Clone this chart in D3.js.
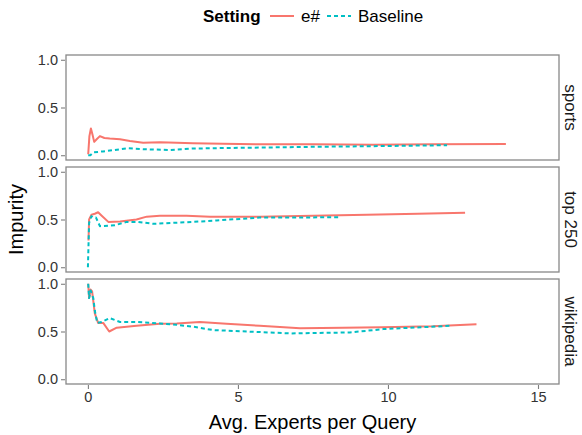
<!DOCTYPE html>
<html>
<head>
<meta charset="utf-8">
<script src="https://cdn.jsdelivr.net/npm/d3@7"></script>
<style>
	body { margin: 0; background: #fff; }
	text { font-family: "Liberation Sans", Arial, sans-serif; }
	.axis path { display: none; }
	.axis line { stroke: #7f7f7f; stroke-width: 1.1; }
	.axis text { fill: #333; font-size: 14.5px; }
</style>
</head>
<body>
<div id="chart"></div>
<script>
var panels = ["sports", "top 250", "wikipedia"];
var settings = ["e#", "Baseline"];
var xTicks = [0, 5, 10, 15];
var yTicks = [0, 0.5, 1];

// [avg experts per query, impurity]
var sportsE = [[0.01, 0.01], [0.05, 0.2], [0.1, 0.28], [0.15, 0.22], [0.21, 0.14], [0.3, 0.17], [0.4, 0.2], [0.55, 0.18], [0.73, 0.175], [1.07, 0.168], [1.4, 0.15], [1.84, 0.13], [2.4, 0.135], [2.96, 0.13], [3.5, 0.125], [4.5, 0.12], [5.7, 0.115], [7.5, 0.115], [9.5, 0.11], [11.5, 0.115], [13.93, 0.118]];
var sportsB = [[0.01, 0.0], [0.08, 0.0], [0.18, 0.03], [0.5, 0.04], [0.9, 0.055], [1.33, 0.073], [1.85, 0.063], [2.73, 0.055], [3.5, 0.07], [4.5, 0.075], [5.7, 0.08], [7.5, 0.088], [9.5, 0.095], [11.97, 0.105]];

var top250E = [[0.02, 0.28], [0.04, 0.5], [0.12, 0.55], [0.23, 0.56], [0.34, 0.576], [0.46, 0.54], [0.68, 0.475], [1.07, 0.48], [1.62, 0.5], [1.96, 0.53], [2.4, 0.54], [3.29, 0.54], [4.07, 0.53], [5.73, 0.53], [7.5, 0.54], [9.3, 0.55], [11, 0.56], [12.57, 0.57]];
var top250B = [[0.0, 0.0], [0.04, 0.465], [0.12, 0.535], [0.18, 0.52], [0.27, 0.52], [0.4, 0.43], [0.9, 0.44], [1.29, 0.475], [1.68, 0.475], [2.18, 0.455], [3.51, 0.475], [4.29, 0.49], [5.73, 0.52], [7, 0.52], [8.4, 0.525]];

var wikiE = [[0.01, 1.0], [0.04, 0.85], [0.09, 0.94], [0.14, 0.92], [0.23, 0.69], [0.34, 0.59], [0.51, 0.59], [0.71, 0.5], [0.96, 0.54], [1.62, 0.56], [2.4, 0.58], [2.96, 0.585], [3.73, 0.6], [4.62, 0.58], [5.73, 0.56], [7.07, 0.535], [8.5, 0.54], [9.8, 0.545], [11.5, 0.555], [12.95, 0.575]];
var wikiB = [[0.01, 1.0], [0.04, 0.85], [0.09, 0.93], [0.18, 0.85], [0.23, 0.72], [0.31, 0.59], [0.46, 0.6], [0.73, 0.64], [1.07, 0.6], [1.62, 0.6], [2.4, 0.585], [2.96, 0.57], [3.51, 0.55], [4.18, 0.515], [5.29, 0.5], [6.73, 0.48], [8.73, 0.49], [9.84, 0.525], [12.1, 0.56]];

var series = [[sportsE, sportsB], [top250E, top250B], [wikiE, wikiB]];

var colors = ["#F8766D", "#00BFC4"],
	dashes = [null, "4,3"];

var width = 582,
	height = 435,
	left = 66, right = 559,
	panelTop = [55, 167, 279],
	panelH = 105;

var svg = d3.select("#chart").append("svg")
	.attr("width", width)
	.attr("height", height);

var x = d3.scaleLinear()
	.domain([-0.73, 15.7])
	.range([left, right]);

var y = d3.scaleLinear()
	.domain([-0.05, 1.05])
	.range([panelH, 0]);

var line = d3.line()
	.x(function(d) { return x(d[0]); })
	.y(function(d) { return y(d[1]); });

/* PANELS */

panels.forEach(function(name, i) {
	var g = svg.append("g")
		.attr("transform", "translate(0," + panelTop[i] + ")");

	g.append("g")
		.attr("class", "axis")
		.attr("transform", "translate(" + (left - 1) + ",0)")
		.call(d3.axisLeft(y).tickValues(yTicks).tickFormat(d3.format(".1f")).tickSize(4).tickPadding(3));

	series[i].forEach(function(s, j) {
		g.append("path")
			.datum(s)
			.attr("fill", "none")
			.attr("stroke", colors[j])
			.attr("stroke-width", 2)
			.attr("stroke-linejoin", "round")
			.attr("stroke-dasharray", dashes[j])
			.attr("d", line);
	});

	g.append("rect")
		.attr("x", left)
		.attr("y", 0)
		.attr("width", right - left)
		.attr("height", panelH)
		.attr("fill", "none")
		.attr("stroke", "#888")
		.attr("stroke-width", 1.3);

	// strip label on the right
	g.append("text")
		.attr("transform", "translate(" + 565 + "," + (panelH / 2) + ") rotate(90)")
		.attr("text-anchor", "middle")
		.attr("fill", "#1a1a1a")
		.style("font-size", "17px")
		.text(name);
});

/* AXES */

svg.append("g")
	.attr("class", "axis")
	.attr("transform", "translate(0," + (panelTop[2] + panelH + 1) + ")")
	.call(d3.axisBottom(x).tickValues(xTicks).tickSize(4).tickPadding(3));

svg.append("text")
	.attr("x", (left + right) / 2)
	.attr("y", 429)
	.attr("text-anchor", "middle")
	.style("font-size", "20px")
	.text("Avg. Experts per Query");

svg.append("text")
	.attr("transform", "translate(" + 23 + "," + ((panelTop[0] + panelTop[2] + panelH) / 2) + ") rotate(-90)")
	.attr("text-anchor", "middle")
	.style("font-size", "20px")
	.text("Impurity");

/* LEGEND */

var legend = svg.append("g");

legend.append("text")
	.attr("x", 203)
	.attr("y", 22)
	.style("font-size", "17px")
	.style("font-weight", "bold")
	.text("Setting");

var keyX = [270, 327],
	labelX = [301, 358];

settings.forEach(function(s, j) {
	legend.append("line")
		.attr("x1", keyX[j])
		.attr("x2", keyX[j] + 24)
		.attr("y1", 16)
		.attr("y2", 16)
		.attr("stroke", colors[j])
		.attr("stroke-width", 2)
		.attr("stroke-dasharray", dashes[j]);

	legend.append("text")
		.attr("x", labelX[j])
		.attr("y", 22)
		.style("font-size", "17px")
		.text(s);
});
</script>
</body>
</html>
